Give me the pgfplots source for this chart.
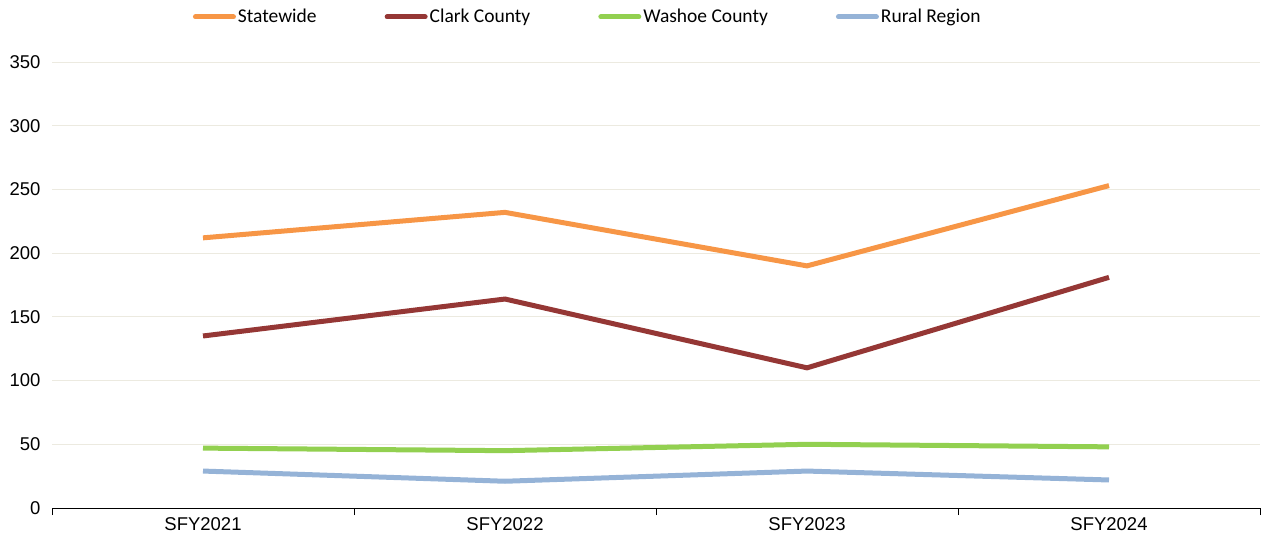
\documentclass[border=0pt]{standalone}
\usepackage{fontspec}
\setmainfont{Carlito}
\newfontfamily\arial{Liberation Sans}
\usepackage{pgfplots}
\pgfplotsset{compat=1.18}
\definecolor{cState}{HTML}{F79646}
\definecolor{cClark}{HTML}{953735}
\definecolor{cWashoe}{HTML}{92D050}
\definecolor{cRural}{HTML}{95B3D7}
\definecolor{gridc}{HTML}{ECEAE0}
\begin{document}
\begin{tikzpicture}
\begin{axis}[
    scale only axis,
    width=1208pt, height=446pt,
    xmin=-0.5, xmax=3.5,
    ymin=0, ymax=350,
    ytick={0,50,...,350},
    xtick={0,1,2,3},
    xticklabels={SFY2021,SFY2022,SFY2023,SFY2024},
    minor xtick={-0.5,0.5,1.5,2.5,3.5},
    major tick length=0pt,
    minor tick length=7pt,
    tick align=outside,
    minor tick style={black, line width=0.8pt},
    axis x line*=bottom,
    axis y line*=left,
    x axis line style={black, line width=1pt, -},
    y axis line style={draw=none},
    ymajorgrids, grid style={gridc, line width=0.8pt},
    /pgf/number format/assume math mode=true,
    tick label style={font=\arial\fontsize{18.5}{21}\selectfont},
    yticklabel style={xshift=-8pt},
    xticklabel style={yshift=-6pt},
    legend columns=4,
    legend style={draw=none, fill=none, at={(0.4435,1.101)}, anchor=center,
        font=\fontsize{19.5}{22}\selectfont,
        /tikz/every even column/.append style={column sep=66pt}},
    legend image code/.code={\draw[#1, line cap=round] (0pt,0pt) -- (38pt,0pt);},
    every axis plot/.append style={line width=5pt},
]
\addplot[cState] coordinates {(0,212) (1,232) (2,190) (3,253)};
\addlegendentry{Statewide}
\addplot[cClark] coordinates {(0,135) (1,164) (2,110) (3,181)};
\addlegendentry{Clark County}
\addplot[cWashoe] coordinates {(0,47) (1,45) (2,50) (3,48)};
\addlegendentry{Washoe County}
\addplot[cRural] coordinates {(0,29) (1,21) (2,29) (3,22)};
\addlegendentry{Rural Region}
\coordinate (bl) at (rel axis cs:0,0);
\coordinate (tr) at (rel axis cs:1,1);
\end{axis}
\path ([xshift=-52pt,yshift=-37pt]bl) rectangle ([xshift=3pt,yshift=62pt]tr);
\end{tikzpicture}
\end{document}
